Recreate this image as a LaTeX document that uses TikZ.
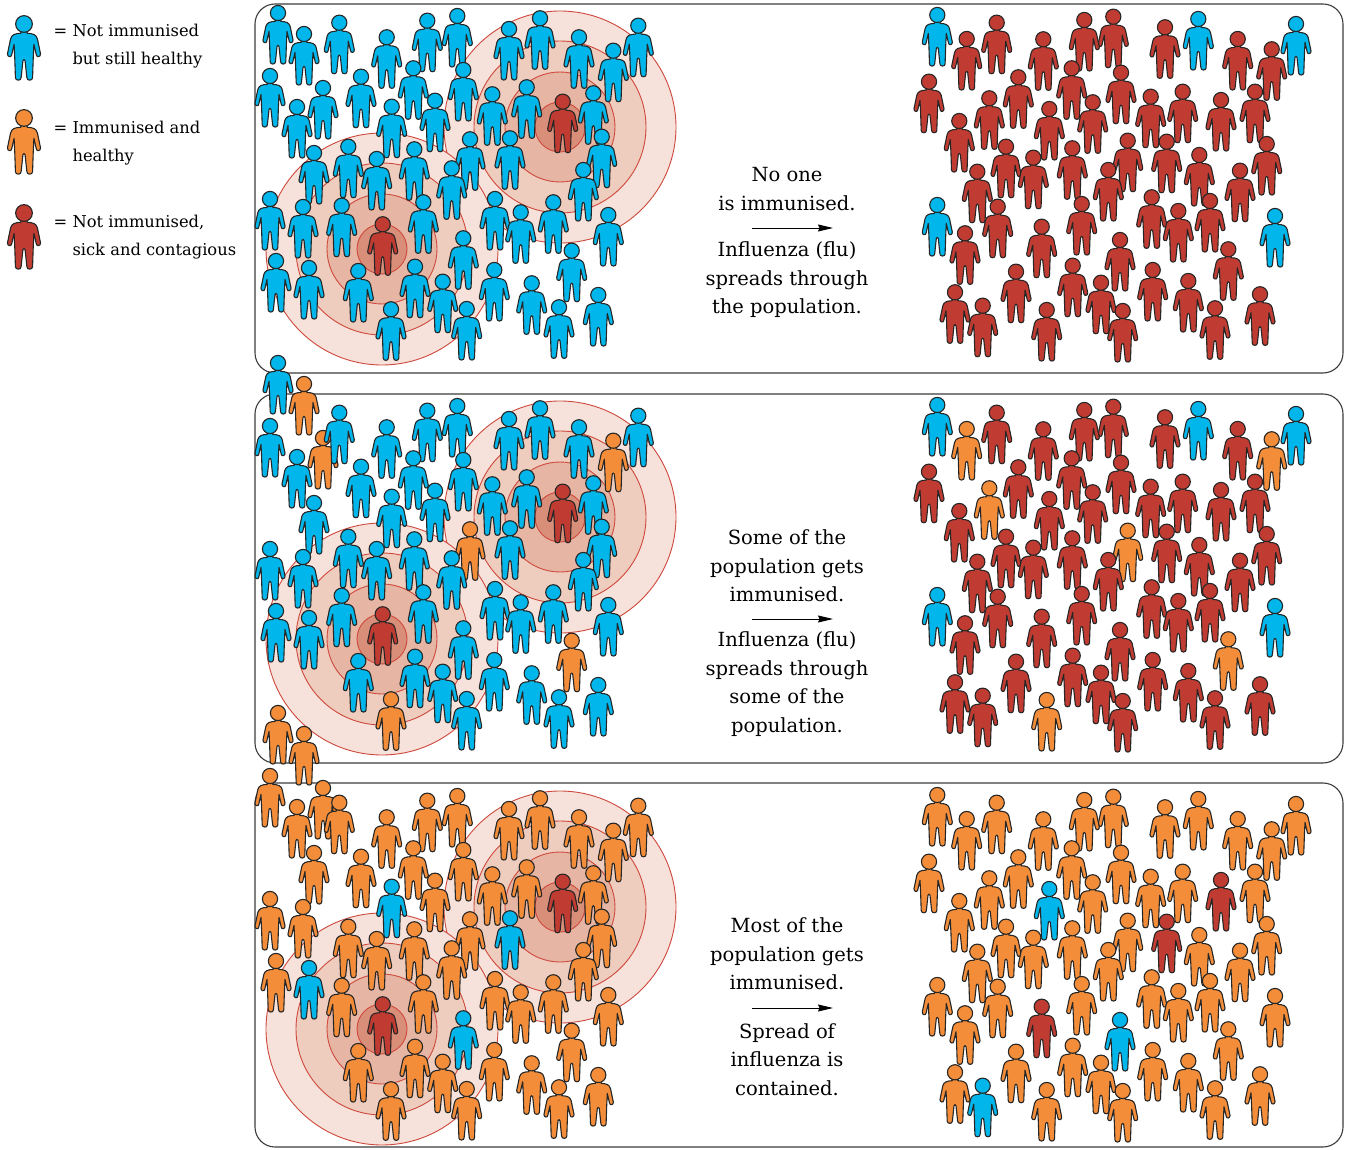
\documentclass[tikz,border=0pt]{standalone}
\usepackage{fontspec}
\setmainfont{DejaVu Serif}
\usetikzlibrary{arrows.meta}

% figure colours: not immunised / immunised / sick
\definecolor{B}{RGB}{0,182,234}
\definecolor{O}{RGB}{243,141,58}
\definecolor{R}{RGB}{192,60,50}
% infection rings, outside to inside
\definecolor{ringA}{RGB}{246,226,218}
\definecolor{ringB}{RGB}{238,205,191}
\definecolor{ringC}{RGB}{230,181,163}
\definecolor{ringD}{RGB}{217,142,121}
\definecolor{ringline}{RGB}{206,72,60}
\definecolor{frameline}{RGB}{60,60,60}

\tikzset{
  outline/.style={draw=black!85, line width=1.1pt, line join=round},
  % little person, head centre at the origin, y pointing down
  person/.pic={
    \draw[outline, fill=#1]
      (-2.6,5) -- (-2.8,8.4)
      .. controls (-8,8.6) and (-11.2,9.6) .. (-12.2,13.6)
      -- (-15,27)
      .. controls (-15.5,30) and (-11.3,30.8) .. (-11.2,28)
      -- (-9,18.5) -- (-8.4,31) -- (-7.8,48.8)
      .. controls (-7.8,51.8) and (-2.6,51.8) .. (-2.6,48.8)
      -- (-1,33.5)
      .. controls (-0.5,32) and (0.5,32) .. (1,33.5)
      -- (2.6,48.8)
      .. controls (2.6,51.8) and (7.8,51.8) .. (7.8,48.8)
      -- (8.4,31) -- (9,18.5) -- (11.2,28)
      .. controls (11.3,30.8) and (15.5,30) .. (15,27)
      -- (12.2,13.6)
      .. controls (11.2,9.6) and (8,8.6) .. (2.8,8.4)
      -- (2.6,5) -- cycle;
    \draw[outline, fill=#1] (0,0) circle[radius=7.6];
  },
  panel/.style={draw=frameline, line width=1.1pt, rounded corners=20pt},
  ring/.style={draw=ringline, line width=0.9pt},
  caption/.style={font=\fontsize{19.5}{28.5}\selectfont, align=center, inner sep=0pt},
  legtext/.style={font=\fontsize{16.3}{28}\selectfont, align=left, anchor=west, inner sep=0pt},
  spread/.style={-{Stealth[length=15pt,width=7pt,inset=1.5pt]}, line width=0.8pt},
}

% concentric infection rings: #1=x, #2=y of the centre
\newcommand{\target}[2]{
  \foreach \r/\c in {116/ringA,86/ringB,55/ringC,25/ringD}
    \draw[ring, fill=\c] (#1,#2) circle[radius=\r];
}

\begin{document}
\begin{tikzpicture}[x=1pt, y=-1pt]
\useasboundingbox (0,0) rectangle (1345,1150);

% ── Panels ──
\draw[panel] (255,4) rectangle (1343,373);
\draw[panel] (255,394) rectangle (1343,763);
\draw[panel] (255,783) rectangle (1343,1147);

% ── Rings round the two sick people ──
\foreach \dy in {0,390,780} {
  \target{560}{127+\dy}
  \target{382}{249+\dy}
}

% ── Left crowd, edge strip (repeats every 350) ──
\foreach \px/\py/\ca/\cb/\cc in {
  278/13/B/B/O, 304/34/B/O/O, 270/76/B/B/O, 323/88/B/O/O, 297/107/B/B/O,
  314/153/B/B/O, 270/199/B/B/O, 303/207/B/B/O, 276/261/B/B/O, 309/268/B/B/B} {
  \pic at (\px,\py) {person=\ca};
  \pic at (\px,\py+350) {person=\cb};
  \pic at (\px,\py+700) {person=\cc};
}

% ── Left crowd, main group ──
\foreach \px/\py/\ca/\cb/\cc in {
  457.3/16/B/B/O, 540/18.3/B/B/O, 427.3/20.7/B/B/O, 339.3/22.7/B/B/O,
  638.3/25.7/B/B/O, 509/29/B/B/O, 386.7/37.3/B/B/O, 579/37.3/B/B/O,
  613.3/50.7/B/O/O, 413.3/68.3/B/B/O, 463.3/70/B/B/O, 361/76.7/B/B/O,
  526.7/87.3/B/B/O, 593.3/93.3/B/B/O, 492.3/94.3/B/B/O, 435/100.7/B/B/O,
  562.7/101.7/R/R/R, 391.7/106.7/B/B/B, 601.7/136.7/B/B/O, 510/138.3/B/B/B,
  470/139.3/B/O/O, 348.3/146.7/B/B/O, 414.3/149.3/B/B/O, 376.7/159/B/B/O,
  451.7/168.3/B/B/O, 583.3/170/B/B/O, 495/199/B/B/O, 423.3/202.3/B/B/O,
  553.3/202.3/B/B/O, 341.7/205.7/B/B/O, 520.7/212.3/B/B/O, 608.3/215/B/B/O,
  382.7/224.3/R/R/R, 463.3/238.3/B/B/B, 571.7/250.7/B/O/O, 415/266.7/B/B/O,
  494.3/270/B/B/O, 358.3/271/B/B/O, 442.7/281.7/B/B/O, 531.7/283.3/B/B/O,
  598.3/295/B/B/O, 559/307.3/B/B/O, 466.7/309/B/B/O, 391/309.3/B/O/O} {
  \pic at (\px,\py) {person=\ca};
  \pic at (\px,\py+390) {person=\cb};
  \pic at (\px,\py+780) {person=\cc};
}

% ── Right crowd, after the spread ──
\foreach \px/\py/\ca/\cb/\cc in {
  937.3/15/B/B/O, 1113.3/16.7/R/R/O, 1198.3/19/B/B/O, 1084.3/20/R/R/O,
  996.7/22.7/R/R/O, 1296/24/B/B/O, 1165/27.3/R/R/O, 1237.7/39/R/R/O,
  966.7/39/R/O/O, 1043.3/39.3/R/R/O, 1271.7/49.3/R/O/O, 1071.7/68.3/R/R/O,
  1121/72.7/R/R/O, 1018.3/77.3/R/R/O, 929/81.7/R/R/O, 1182.7/91.7/R/R/O,
  1255/91.7/R/R/O, 1150.7/96.7/R/R/O, 989.3/98.3/R/O/O, 1221/100/R/R/R,
  1092.7/102.3/R/R/O, 1049.3/109/R/R/B, 959.3/121/R/R/O, 1127.7/140.7/R/O/O,
  1166.7/141.7/R/R/R, 1266.7/144/R/R/O, 1006/146.7/R/R/O, 1072.3/148.3/R/R/O,
  1199.3/155/R/R/O, 1033.3/157.7/R/R/O, 1108.3/170/R/R/O, 1240/170.7/R/R/O,
  977.3/171.7/R/R/O, 1151.7/197.3/R/R/O, 1210/201/R/R/O, 1081.7/204/R/R/O,
  937.3/205/B/B/O, 997.7/206.7/R/R/O, 1178.3/211/R/R/O, 1275/216/B/B/O,
  1041.7/226.7/R/R/R, 965/233.3/R/R/O, 1120/240/R/R/B, 1228.3/249.3/R/O/O,
  1072.7/265.7/R/R/O, 1152.7/270/R/R/O, 1016/271.7/R/R/O, 1188.3/281/R/R/O,
  1101/282.7/R/R/O, 955/292.3/R/R/O, 1260/294.3/R/R/O, 982.7/305.7/R/R/B,
  1215/308.3/R/R/O, 1046.7/310/R/O/O, 1122.7/311/R/R/O} {
  \pic at (\px,\py) {person=\ca};
  \pic at (\px,\py+390) {person=\cb};
  \pic at (\px,\py+780) {person=\cc};
}

% ── Captions ──
\node[caption] (imm1) at (787,189) {No one\\is immunised.};
\coordinate (s1) at (752,228);
\coordinate (e1) at (833,228);
\draw[spread] (s1) -- (e1);
\node[caption] (flu1) at (787,280) {Influenza (flu)\\spreads through\\the population.};

\node[caption] (imm2) at (787,566) {Some of the\\population gets\\immunised.};
\coordinate (s2) at (752,619);
\coordinate (e2) at (833,619);
\draw[spread] (s2) -- (e2);
\node[caption] (flu2) at (787,684) {Influenza (flu)\\spreads through\\some of the\\population.};

\node[caption] (imm3) at (787,954) {Most of the\\population gets\\immunised.};
\coordinate (s3) at (752,1008);
\coordinate (e3) at (833,1008);
\draw[spread] (s3) -- (e3);
\node[caption] (flu3) at (787,1059.5) {Spread of\\influenza is\\contained.};

% ── Key ──
\pic[scale=1.1] at (24,24) {person=B};
\pic[scale=1.1] at (24,118) {person=O};
\pic[scale=1.1] at (24,213) {person=R};
\node[legtext] (key1) at (53.5,46) {= Not immunised\\\phantom{=}\ but still healthy};
\node[legtext] (key2) at (53.5,143) {= Immunised and\\\phantom{=}\ healthy};
\node[legtext] (key3) at (53.5,237) {= Not immunised,\\\phantom{=}\ sick and contagious};

\end{tikzpicture}
\end{document}
